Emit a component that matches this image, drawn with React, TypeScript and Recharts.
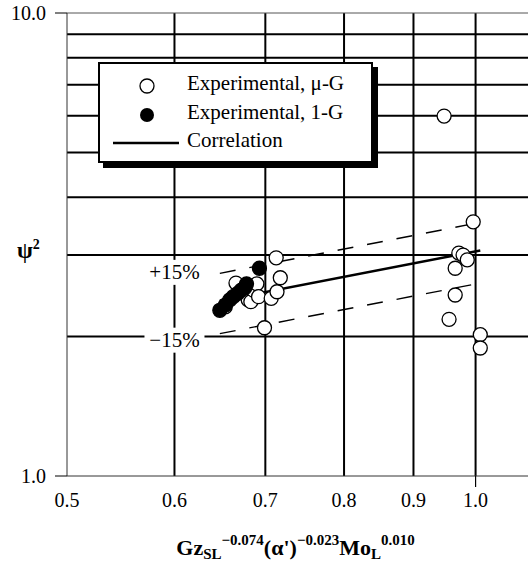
import { ScatterChart, Scatter, XAxis, YAxis, ReferenceLine } from 'recharts';

// axes (log-log)
const xTicks = [0.5, 0.6, 0.7, 0.8, 0.9, 1.0];
const yTicks = [1, 10];
const gridX = [0.6, 0.7, 0.8, 0.9, 1.0];
const gridY = [2, 3, 4, 5, 6, 7, 8, 9];

// Experimental, micro-G (open circles)
const microGX = [0.654, 0.666, 0.680, 0.683, 0.686, 0.690, 0.692, 0.699, 0.707, 0.713, 0.714, 0.718,
  0.948, 0.996, 0.972, 0.979, 0.986, 0.966, 0.966, 0.956, 1.008, 1.008];
const microGY = [2.32, 2.61, 2.40, 2.38, 2.52, 2.60, 2.44, 2.09, 2.42, 2.96, 2.50, 2.68,
  5.99, 3.54, 3.03, 3.00, 2.93, 2.81, 2.46, 2.18, 2.02, 1.89];

// Experimental, 1-G (filled circles)
const oneGX = [0.648, 0.654, 0.659, 0.663, 0.668, 0.672, 0.676, 0.678, 0.693];
const oneGY = [2.28, 2.34, 2.40, 2.44, 2.48, 2.52, 2.55, 2.60, 2.81];

// correlation and +/-15% bands
const corrX = [0.648, 1.008];
const corrY = [2.39, 3.07];
const upperY = [2.74, 3.53];
const lowerY = [2.03, 2.61];

const bandLabels = ['+15%', '\u221215%'];
const bandLabelX = [0.6, 0.6];
const bandLabelY = [2.76, 1.97];

const legendLabels = ['Experimental, \u03bc-G', 'Experimental, 1-G', 'Correlation'];

const pts = (xs: number[], ys: number[]) => xs.map((x, i) => ({ x, y: ys[i] }));

const microG = pts(microGX, microGY);
const oneG = pts(oneGX, oneGY);
const corr = pts(corrX, corrY);
const upper = pts(corrX, upperY);
const lower = pts(corrX, lowerY);
const bandNotes = bandLabelX.map((x, i) => ({ x, y: bandLabelY[i], text: bandLabels[i] }));

const FONT = '"Liberation Serif", "Times New Roman", serif';

const openDot = (p: any) => <circle cx={p.cx} cy={p.cy} r={7} fill="#fff" stroke="#000" strokeWidth={1.3} />;
const filledDot = (p: any) => <circle cx={p.cx} cy={p.cy} r={7} fill="#000" stroke="#000" strokeWidth={1.3} />;
const noDot = () => <g />;

const noteShape = (p: any) => (
  <g>
    <rect x={p.cx - 30} y={p.cy - 12} width={60} height={25} fill="#fff" />
    <text x={p.cx} y={p.cy} dy={7} textAnchor="middle" fontFamily={FONT} fontSize={21} fill="#000">
      {p.payload.text}
    </text>
  </g>
);

const XTick = (p: any) => (
  <g>
    {p.payload.value === 1 && (
      <line x1={p.x} x2={p.x} y1={p.y - 14} y2={p.y - 3} stroke="#000" strokeWidth={1.2} />
    )}
    <text x={p.x} y={p.y} dy={17} textAnchor="middle" fontFamily={FONT} fontSize={20} fill="#000">
      {p.payload.value.toFixed(1)}
    </text>
  </g>
);

const XLabel = (p: any) => {
  const vb = p.viewBox;
  return (
    <text x={vb.x + vb.width / 2 - 2} y={vb.y + 79} textAnchor="middle" fontFamily={FONT}
      fontWeight="bold" fontSize={22} fill="#000">
      Gz
      <tspan fontSize={15} dy={4}>SL</tspan>
      <tspan fontSize={15} dy={-14}>{'\u22120.074'}</tspan>
      <tspan dy={10}>(&#945;')</tspan>
      <tspan fontSize={15} dy={-10}>{'\u22120.023'}</tspan>
      <tspan dy={10}>Mo</tspan>
      <tspan fontSize={15} dy={4}>L</tspan>
      <tspan fontSize={15} dy={-14}>0.010</tspan>
    </text>
  );
};

const YLabel = (p: any) => {
  const vb = p.viewBox;
  return (
    <text x={vb.x + 17} y={vb.y + vb.height / 2 + 13} fontFamily={FONT} fontWeight="bold" fontSize={23} fill="#000">
      &#968;<tspan fontSize={14} dy={-9}>2</tspan>
    </text>
  );
};

const Legend = () => (
  <div
    style={{
      position: 'absolute', left: 98, top: 62, width: 275, height: 101, boxSizing: 'border-box',
      border: '2px solid #000', background: '#fff', boxShadow: '5px 5px 0 #000',
      fontFamily: FONT, fontSize: 21, color: '#000',
    }}
  >
    <svg width={271} height={97} style={{ position: 'absolute', left: 0, top: 0 }}>
      <circle cx={47} cy={22} r={7} fill="#fff" stroke="#000" strokeWidth={1.3} />
      <circle cx={47} cy={51} r={7} fill="#000" />
      <line x1={13} x2={79} y1={79} y2={79} stroke="#000" strokeWidth={2.5} />
    </svg>
    {legendLabels.map((t, i) => (
      <div key={t} style={{ position: 'absolute', left: 87, top: 7 + i * 28.5, lineHeight: '24px', whiteSpace: 'nowrap' }}>
        {t}
      </div>
    ))}
  </div>
);

export default function App() {
  return (
    <div style={{ position: 'absolute', left: 0, top: 0, width: 528, height: 568, background: '#fff' }}>
      <ScatterChart width={528} height={568} margin={{ top: 13, right: 0, bottom: 0, left: 0 }}>
        <XAxis
          type="number" dataKey="x" scale="log" domain={[0.5, 1.093]} allowDataOverflow
          ticks={xTicks} interval={0} tickSize={10} tickMargin={4} tickLine={false}
          tick={XTick} height={92} axisLine={{ stroke: '#333', strokeWidth: 1 }}
          label={<XLabel />}
        />
        <YAxis
          type="number" dataKey="y" scale="log" domain={[1, 10]} allowDataOverflow
          ticks={yTicks} interval={0} width={67} tickSize={12} tickMargin={9}
          tickLine={{ stroke: '#000', strokeWidth: 1 }} axisLine={{ stroke: '#333', strokeWidth: 1 }}
          tick={{ fill: '#000', fontSize: 20, fontFamily: FONT }}
          tickFormatter={(v: number) => v.toFixed(1)}
          label={<YLabel />}
        />
        {gridX.map((v) => (
          <ReferenceLine key={'gx' + v} x={v} stroke="#000" strokeWidth={2} />
        ))}
        {gridY.map((v) => (
          <ReferenceLine key={'gy' + v} y={v} stroke="#000" strokeWidth={2} />
        ))}
        <ReferenceLine y={10} stroke="#555" strokeWidth={1} />
        <Scatter data={bandNotes} shape={noteShape} isAnimationActive={false} />
        <Scatter data={upper} shape={noDot} line={{ stroke: '#000', strokeWidth: 1.4, strokeDasharray: '16 14' }} lineType="joint" isAnimationActive={false} />
        <Scatter data={lower} shape={noDot} line={{ stroke: '#000', strokeWidth: 1.4, strokeDasharray: '16 14' }} lineType="joint" isAnimationActive={false} />
        <Scatter data={corr} shape={noDot} line={{ stroke: '#000', strokeWidth: 2.5 }} lineType="joint" isAnimationActive={false} />
        <Scatter data={microG} shape={openDot} isAnimationActive={false} />
        <Scatter data={oneG} shape={filledDot} isAnimationActive={false} />
      </ScatterChart>
      <Legend />
    </div>
  );
}
